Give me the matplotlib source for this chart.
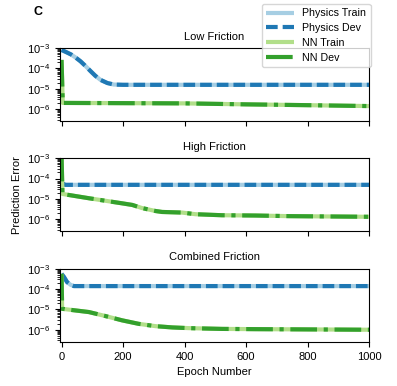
import matplotlib
matplotlib.use("Agg")
import matplotlib.pyplot as plt
from matplotlib.ticker import LogLocator, NullFormatter

plt.rcParams.update({
    "font.family": ["Liberation Sans", "DejaVu Sans"],
    "font.size": 8,
    "mathtext.fontset": "custom",
    "mathtext.rm": "Liberation Sans",
    "mathtext.it": "Liberation Sans:italic",
    "mathtext.bf": "Liberation Sans:bold",
    "xtick.labelsize": 8,
    "ytick.labelsize": 8,
})

# ---------------- data ----------------
titles = ["Low Friction", "High Friction", "Combined Friction"]
series_labels = ["Physics Train", "Physics Dev", "NN Train", "NN Dev"]

# Low friction
low_phys_epochs = [0, 15, 31, 47, 62, 78, 94, 110, 127, 149, 170, 200, 300, 400, 500, 600, 700, 800, 900, 1000]
low_phys_err = [8.0e-4, 6.3e-4, 4.8e-4, 3.3e-4, 2.2e-4, 1.3e-4, 7.4e-5, 4.3e-5, 2.7e-5, 1.9e-5,
                1.6e-5, 1.55e-5, 1.55e-5, 1.55e-5, 1.55e-5, 1.55e-5, 1.55e-5, 1.55e-5, 1.55e-5, 1.55e-5]
low_nn_epochs = [0, 4, 200, 400, 600, 800, 1000]
low_nn_err = [2.6e-4, 2.0e-6, 1.95e-6, 1.9e-6, 1.7e-6, 1.55e-6, 1.4e-6]

# High friction
high_phys_epochs = [0, 5, 12, 200, 400, 600, 800, 1000]
high_phys_err = [5.6e-5, 5.6e-5, 4.9e-5, 4.9e-5, 4.9e-5, 4.9e-5, 4.9e-5, 4.9e-5]
high_nn_epochs = [0, 3, 89, 197, 230, 262, 306, 327, 392, 436, 522, 631, 739, 1000]
high_nn_err = [1.5e-3, 1.74e-5, 1.07e-5, 6.0e-6, 5.0e-6, 3.5e-6, 2.5e-6, 2.25e-6, 2.1e-6,
               1.74e-6, 1.55e-6, 1.5e-6, 1.4e-6, 1.3e-6]

# Combined friction
comb_phys_epochs = [0, 8, 18, 29, 40, 200, 400, 600, 800, 1000]
comb_phys_err = [5.6e-4, 3.9e-4, 2.2e-4, 1.63e-4, 1.4e-4, 1.4e-4, 1.4e-4, 1.4e-4, 1.4e-4, 1.4e-4]
comb_nn_epochs = [0, 2, 45, 89, 143, 197, 251, 306, 360, 414, 522, 631, 848, 1000]
comb_nn_err = [5.6e-4, 1.07e-5, 8.9e-6, 7.4e-6, 4.7e-6, 2.9e-6, 1.95e-6, 1.5e-6, 1.3e-6,
               1.2e-6, 1.1e-6, 1.07e-6, 1.03e-6, 1.0e-6]

panels = [
    (low_phys_epochs, low_phys_err, low_nn_epochs, low_nn_err),
    (high_phys_epochs, high_phys_err, high_nn_epochs, high_nn_err),
    (comb_phys_epochs, comb_phys_err, comb_nn_epochs, comb_nn_err),
]

xticks = [0, 200, 400, 600, 800, 1000]
yticks = [1e-6, 1e-5, 1e-4, 1e-3]

# ---------------- styling ----------------
c_phys_train = "#a6cee3"
c_phys_dev = "#1f78b4"
c_nn_train = "#b2df8a"
c_nn_dev = "#33a02c"
lw = 3

fig = plt.figure(figsize=(3.97, 3.86), dpi=100)
W, H = 397, 386
left, right = 60 / W, 369 / W
tops_px = [48, 158.3, 268.7]
bottoms_px = [121.3, 231.3, 342]

axes = []
handles = None
for i, (pe, pv, ne, nv) in enumerate(panels):
    t, b = tops_px[i], bottoms_px[i]
    ax = fig.add_axes([left, 1 - b / H, right - left, (b - t) / H])
    axes.append(ax)
    h1, = ax.plot(pe, pv, color=c_phys_train, lw=lw, solid_capstyle="butt")
    h2, = ax.plot(pe, pv, color=c_phys_dev, lw=lw, linestyle=(0, (2.8, 1.2)))
    h3, = ax.plot(ne, nv, color=c_nn_train, lw=lw, solid_capstyle="butt")
    h4, = ax.plot(ne, nv, color=c_nn_dev, lw=lw, linestyle="-.")
    if handles is None:
        handles = [h1, h2, h3, h4]
    ax.set_yscale("log")
    ax.set_ylim(2.5e-7, 1e-3)
    ax.set_yticks(yticks)
    ax.yaxis.set_minor_locator(LogLocator(base=10, subs=[2, 3, 4, 5, 6, 7, 8, 9], numticks=20))
    ax.yaxis.set_minor_formatter(NullFormatter())
    ax.set_xlim(-5, 1000)
    ax.set_xticks(xticks)
    ax.set_title(titles[i], fontsize=8)
    if i < 2:
        ax.tick_params(axis="x", labelbottom=False)

axes[1].set_ylabel("Prediction Error", fontsize=8)
axes[2].set_xlabel("Epoch Number", fontsize=8)

fig.legend(handles, series_labels, loc="upper right",
           bbox_to_anchor=(370.5 / W, 1 - 4 / H), fontsize=7.7,
           handlelength=2.6, labelspacing=0.45, borderaxespad=0.0)

fig.text(38 / W, 1 - 12 / H, "C", fontsize=9, fontweight="bold", ha="center", va="center")

fig.savefig("out.png", dpi=100)
